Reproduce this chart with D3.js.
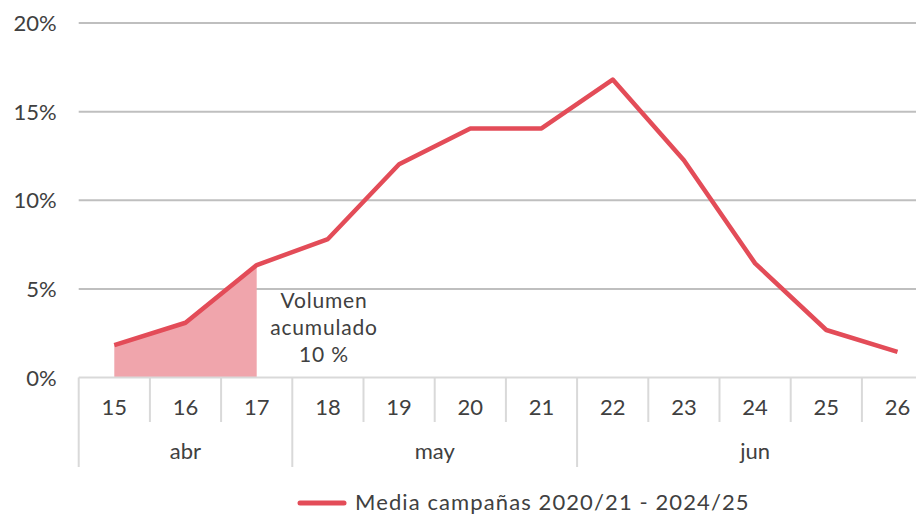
<!DOCTYPE html>
<html>
<head>
<meta charset="utf-8">
<script src="https://cdn.jsdelivr.net/npm/d3@7"></script>
<style>
	body{ margin:0; background:#fff; }
	svg text{ font-family:"Century Gothic", "Lato", sans-serif; fill:#404040; }
</style>
</head>
<body>
<div id="chart"></div>
<script>
// semanas y valores (%)
var weeks = ['15', '16', '17', '18', '19', '20', '21', '22', '23', '24', '25', '26']
	, values = [1.83, 3.09, 6.34, 7.81, 12.03, 14.05, 14.05, 16.81, 12.26, 6.44, 2.68, 1.45]
	, months = [
		{ name: 'abr', from: '15', to: '17' },
		{ name: 'may', from: '18', to: '21' },
		{ name: 'jun', from: '22', to: '26' }
	]
	, yTicks = [0, 5, 10, 15, 20]
	, filledWeeks = ['15', '16', '17']
	, noteLines = ['Volumen', 'acumulado', '10 %']
	, legendLabel = 'Media campañas 2020/21 - 2024/25'
	;

var W = 916
	, H = 515
	, plotLeft = 78.7
	, step = 71.2
	, plotTop = 23
	, plotBottom = 377.5

	, red = '#e34c58'
	, pink = '#f0a5ac'
	;

var svg = d3.select('#chart').append('svg').attr('width', W).attr('height', H);

var x = d3.scaleBand().domain(weeks).range([plotLeft, plotLeft + step * weeks.length]).padding(0);
var y = d3.scaleLinear().domain([0, 20]).range([plotBottom, plotTop]);
var cx = function(w){ return x(w) + x.bandwidth() / 2; };

// rejilla
svg.append('g').selectAll('line').data(yTicks.filter(function(d){ return d > 0; })).enter().append('line')
	.attr('x1', plotLeft).attr('x2', W)
	.attr('y1', function(d){ return y(d); }).attr('y2', function(d){ return y(d); })
	.attr('stroke', '#bfbfbf').attr('stroke-width', 2);

// eje y
var yAxis = svg.append('g').attr('transform', 'translate(' + (plotLeft - 22) + ',0)')
	.call(d3.axisLeft(y).tickValues(yTicks).tickSize(0).tickPadding(0).tickFormat(function(d){ return d + '%'; }));
yAxis.select('.domain').remove();
yAxis.selectAll('text').attr('font-size', 22).attr('fill', '#404040').attr('dy', '0.35em')
	.attr('font-family', '"Century Gothic", "Lato", sans-serif');

// area acumulada
var data = weeks.map(function(w, i){ return { week: w, value: values[i] }; });
var area = d3.area().x(function(d){ return cx(d.week); }).y0(y(0)).y1(function(d){ return y(d.value); });
svg.append('path').datum(data.filter(function(d){ return filledWeeks.indexOf(d.week) > -1; }))
	.attr('d', area).attr('fill', pink);

// eje x: linea base y separadores
var axisColor = '#d9d9d9';
svg.append('line').attr('x1', plotLeft).attr('x2', W).attr('y1', y(0)).attr('y2', y(0))
	.attr('stroke', axisColor).attr('stroke-width', 2);

var monthStarts = months.map(function(m){ return m.from; });
svg.append('g').selectAll('line').data(weeks).enter().append('line')
	.attr('x1', function(d){ return x(d); }).attr('x2', function(d){ return x(d); })
	.attr('y1', y(0))
	.attr('y2', function(d){ return monthStarts.indexOf(d) > -1 ? 467 : 422; })
	.attr('stroke', axisColor).attr('stroke-width', 2);

svg.append('g').selectAll('text').data(weeks).enter().append('text')
	.attr('x', cx).attr('y', 407).attr('dy', '0.35em')
	.attr('text-anchor', 'middle').attr('font-size', 22)
	.text(function(d){ return d; });

svg.append('g').selectAll('text').data(months).enter().append('text')
	.attr('x', function(m){ return (x(m.from) + x(m.to) + x.bandwidth()) / 2; })
	.attr('y', 451).attr('dy', '0.35em')
	.attr('text-anchor', 'middle').attr('font-size', 22)
	.text(function(m){ return m.name; });

// linea
var line = d3.line().x(function(d){ return cx(d.week); }).y(function(d){ return y(d.value); });
svg.append('path').datum(data).attr('d', line)
	.attr('fill', 'none').attr('stroke', red).attr('stroke-width', 4.5).attr('stroke-linejoin', 'round');

// nota
svg.append('text').attr('x', 324).attr('y', 308).attr('text-anchor', 'middle').attr('font-size', 21)
	.attr('letter-spacing', 0.8)
	.selectAll('tspan').data(noteLines).enter().append('tspan')
	.attr('x', 324).attr('dy', function(d, i){ return i ? 27 : 0; })
	.text(function(d){ return d; });

// leyenda
svg.append('line').attr('x1', 300).attr('x2', 344).attr('y1', 503).attr('y2', 503)
	.attr('stroke', red).attr('stroke-width', 5).attr('stroke-linecap', 'round');
svg.append('text').attr('x', 355).attr('y', 502).attr('dy', '0.35em').attr('font-size', 22)
	.attr('letter-spacing', 1.1)
	.text(legendLabel);
</script>
</body>
</html>
